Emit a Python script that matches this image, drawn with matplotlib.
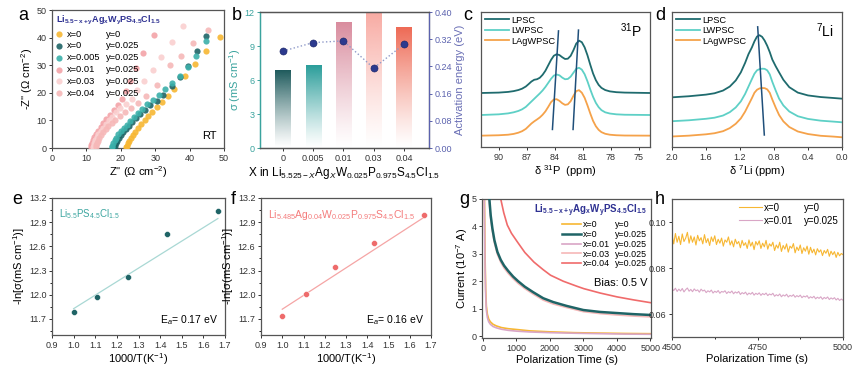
#!/usr/bin/env python3
"""
Ag/W co-doped argyrodite figure: EIS, conductivity, NMR, Arrhenius and
DC polarization panels (a-h) laid out in one 865x375 figure.
"""

import numpy as np
import matplotlib
matplotlib.use('Agg')
import matplotlib.pyplot as plt
import matplotlib.colors as mcolors
import matplotlib.ticker as ticker
from matplotlib.lines import Line2D

# ---------------- data ----------------
LEG_X = ['x=0', 'x=0', 'x=0.005', 'x=0.01', 'x=0.03', 'x=0.04']
LEG_Y = ['y=0', 'y=0.025', 'y=0.025', 'y=0.025', 'y=0.025', 'y=0.025']

# (a) Nyquist points
A_X00 = [21.5, 21.7, 22.0, 22.4, 22.9, 23.5, 24.2, 25.0, 25.9, 26.9, 28.0, 29.2, 30.5, 32.0, 33.7, 35.5, 38.7, 41.6, 44.8, 48.8]
A_Y00 = [0.2, 0.9, 1.7, 2.6, 3.6, 4.7, 5.9, 7.2, 8.6, 10.0, 11.5, 13.1, 14.8, 16.7, 18.9, 21.5, 26.2, 30.5, 35.0, 40.2]
A_X01 = [18.0, 18.2, 18.5, 18.9, 19.4, 20.0, 20.7, 21.5, 22.4, 23.4, 24.5, 25.7, 27.0, 28.5, 30.4, 32.4, 34.8, 37.2, 39.6, 42.1, 44.7]
A_Y01 = [0.2, 0.9, 1.7, 2.6, 3.6, 4.6, 5.7, 6.9, 8.1, 9.4, 10.8, 12.3, 13.9, 15.5, 17.1, 19.2, 22.5, 25.7, 29.8, 35.0, 40.7]
A_X02 = [17.3, 17.5, 17.8, 18.2, 18.7, 19.3, 20.0, 20.8, 21.7, 22.7, 23.8, 25.0, 26.3, 27.7, 29.3, 31.0, 32.9, 35.0, 37.2, 39.4, 41.9, 44.8]
A_Y02 = [0.2, 0.9, 1.8, 2.8, 3.8, 4.9, 6.0, 7.2, 8.5, 9.8, 11.2, 12.7, 14.2, 15.8, 17.4, 19.2, 21.2, 23.5, 26.1, 29.5, 33.4, 38.6]
A_X03 = [11.3, 11.4, 11.6, 11.9, 12.3, 12.8, 13.4, 14.1, 14.9, 15.8, 16.8, 17.9, 19.1, 20.3, 21.5, 22.7, 24.4, 26.4, 29.6]
A_Y03 = [0.2, 1.0, 1.9, 2.9, 4.0, 5.1, 6.3, 7.6, 9.0, 10.5, 12.1, 13.8, 15.6, 17.6, 20.8, 24.3, 28.9, 34.4, 41.0]
A_X04 = [12.0, 12.1, 12.3, 12.6, 13.0, 13.5, 14.1, 14.8, 15.6, 16.5, 17.5, 18.6, 19.8, 21.4, 23.2, 24.6, 26.7, 29.3, 31.7, 35.0, 38.0]
A_Y04 = [0.2, 1.0, 1.9, 2.9, 4.0, 5.1, 6.2, 7.4, 8.7, 10.0, 11.4, 12.9, 14.6, 16.0, 17.7, 21.1, 24.3, 28.3, 32.9, 38.3, 44.3]
A_X05 = [12.8, 12.9, 13.1, 13.4, 13.8, 14.3, 14.9, 15.6, 16.4, 17.3, 18.4, 19.7, 21.2, 23.0, 25.0, 27.4, 30.6, 34.3, 37.4, 41.1, 45.4]
A_Y05 = [0.2, 1.0, 1.8, 2.7, 3.7, 4.7, 5.7, 6.8, 7.9, 9.0, 10.2, 11.5, 12.9, 14.5, 16.3, 18.8, 23.0, 29.9, 33.4, 38.0, 42.9]

# (b) conductivity bars + activation energy
B_LABELS = ['0', '0.005', '0.01', '0.03', '0.04']
B_SIGMA = [6.8, 7.3, 11.1, 12.0, 10.6]
B_EA = [0.285, 0.31, 0.315, 0.235, 0.305]

# (c) 31P NMR (intensity above each baseline)
NMR_NAMES = ['LPSC', 'LWPSC', 'LAgWPSC']
C_PPM = [91.9, 90.0, 89.0, 88.4, 87.9, 87.5, 87.1, 86.8, 86.5, 86.2, 85.9, 85.6, 85.3, 85.0, 84.7, 84.4,
         84.1, 83.8, 83.5, 83.2, 82.9, 82.6, 82.3, 82.0, 81.7, 81.4, 81.1, 80.8, 80.5, 80.2, 79.9, 79.6,
         79.3, 79.0, 78.6, 78.1, 77.4, 76.5, 73.8]
C_LPSC = [0, 0.003, 0.008, 0.014, 0.022, 0.032, 0.048, 0.066, 0.085, 0.098, 0.102, 0.113, 0.135, 0.165, 0.205, 0.245,
          0.276, 0.287, 0.281, 0.265, 0.252, 0.254, 0.275, 0.317, 0.366, 0.388, 0.376, 0.338, 0.280, 0.210, 0.145, 0.095,
          0.060, 0.038, 0.022, 0.012, 0.006, 0.003, 0]
C_LWPSC = [0, 0.005, 0.012, 0.020, 0.030, 0.042, 0.060, 0.080, 0.100, 0.120, 0.140, 0.160, 0.182, 0.208, 0.238, 0.268,
           0.292, 0.300, 0.294, 0.277, 0.265, 0.267, 0.284, 0.313, 0.342, 0.350, 0.336, 0.302, 0.250, 0.190, 0.135, 0.090,
           0.058, 0.036, 0.020, 0.011, 0.005, 0.002, 0]
C_LAGWPSC = [0, 0.003, 0.007, 0.013, 0.022, 0.033, 0.050, 0.070, 0.090, 0.106, 0.120, 0.135, 0.155, 0.180, 0.213, 0.248,
             0.268, 0.270, 0.258, 0.240, 0.228, 0.232, 0.255, 0.295, 0.330, 0.337, 0.318, 0.280, 0.225, 0.165, 0.110, 0.070,
             0.043, 0.026, 0.014, 0.007, 0.003, 0.001, 0]
C_GUIDE1 = ([84.25, 83.6], [0.13, 0.86])
C_GUIDE2 = ([82.04, 81.46], [0.13, 0.866])

# (d) 7Li NMR
D_PPM = [2.0, 1.8, 1.6, 1.5, 1.4, 1.32, 1.25, 1.19, 1.14, 1.10, 1.06, 1.03, 1.0, 0.97, 0.94, 0.91, 0.88, 0.85,
         0.82, 0.78, 0.74, 0.69, 0.62, 0.52, 0.40, 0.25, 0.10, 0.0]
D_LPSC = [0.010, 0.018, 0.030, 0.040, 0.060, 0.090, 0.135, 0.195, 0.265, 0.330, 0.380, 0.425, 0.460, 0.470, 0.458,
          0.430, 0.392, 0.345, 0.290, 0.240, 0.195, 0.140, 0.085, 0.045, 0.024, 0.012, 0.005, 0.0]
D_LWPSC = [0.008, 0.015, 0.026, 0.034, 0.050, 0.075, 0.110, 0.155, 0.210, 0.265, 0.320, 0.360, 0.385, 0.394, 0.397,
           0.396, 0.385, 0.355, 0.300, 0.235, 0.175, 0.125, 0.080, 0.045, 0.025, 0.012, 0.005, 0.0]
D_LAGWPSC = [0.006, 0.012, 0.022, 0.030, 0.045, 0.068, 0.100, 0.140, 0.190, 0.240, 0.290, 0.330, 0.352, 0.362, 0.365,
             0.364, 0.355, 0.330, 0.280, 0.220, 0.165, 0.118, 0.076, 0.043, 0.024, 0.011, 0.005, 0.0]
D_GUIDE = ([0.992, 0.914], [0.89, 0.089])

# (e), (f) Arrhenius
ARR_X = [1.0, 1.11, 1.25, 1.43, 1.667]
E_Y = [11.786, 11.975, 12.218, 12.748, 13.044]
E_FIT = ([1.0, 1.667], [11.827, 12.945])
F_Y = [11.733, 12.007, 12.348, 12.647, 12.995]
F_FIT = ([1.0, 1.667], [11.82, 12.96])

# (g) DC polarization
G_T_LOW = [20, 40, 60, 80, 100, 130, 170, 220, 300, 400, 550, 750, 1000, 1400, 2000, 2700, 3500, 4250, 5000]
G_I00 = [9.0, 5.5, 3.0, 1.7, 1.1, 0.80, 0.62, 0.52, 0.43, 0.37, 0.31, 0.27, 0.24, 0.19, 0.155, 0.125, 0.108, 0.095, 0.087]
G_I03 = [8.0, 4.8, 2.6, 1.5, 0.95, 0.68, 0.52, 0.43, 0.35, 0.30, 0.25, 0.21, 0.18, 0.15, 0.125, 0.105, 0.088, 0.073, 0.066]
G_T_MID = [150, 190, 230, 280, 340, 430, 530, 630, 750, 900, 1050, 1250, 1500, 1800, 2100, 2500, 3000, 3500, 4000, 4500, 5000]
G_I01 = [6.2, 5.0, 4.4, 3.93, 3.5, 3.07, 2.78, 2.57, 2.38, 2.17, 2.0, 1.8, 1.6, 1.38, 1.24, 1.10, 0.95, 0.88, 0.84, 0.80, 0.77]
G_I04 = [6.0, 4.85, 4.28, 3.83, 3.4, 2.98, 2.69, 2.48, 2.29, 2.09, 1.92, 1.73, 1.53, 1.31, 1.17, 1.04, 0.89, 0.82, 0.77, 0.73, 0.70]
G_T_HIGH = [450, 530, 620, 726, 850, 1024, 1250, 1521, 1800, 2018, 2400, 2800, 3012, 3500, 4006, 4500, 5000]
G_I05 = [5.6, 5.0, 4.5, 4.05, 3.75, 3.44, 3.05, 2.7, 2.42, 2.22, 2.0, 1.82, 1.73, 1.57, 1.43, 1.32, 1.22]
G_LEG_X = ['x=0', 'x=0', 'x=0.01', 'x=0.03', 'x=0.04']
G_LEG_Y = ['y=0', 'y=0.025', 'y=0.025', 'y=0.025', 'y=0.025']

# (h) zoom of the tail, sampled every 5 s
H_T = np.arange(4500, 5001, 5)
H_I00 = [0.0945, 0.0905, 0.0950, 0.0912, 0.0938, 0.0902, 0.0948, 0.0915, 0.0930, 0.0955,
         0.0908, 0.0940, 0.0912, 0.0935, 0.0900, 0.0942, 0.0918, 0.0932, 0.0905, 0.0945,
         0.0910, 0.0928, 0.0898, 0.0935, 0.0915, 0.0940, 0.0902, 0.0925, 0.0908, 0.0930,
         0.0895, 0.0922, 0.0912, 0.0935, 0.0900, 0.0918, 0.0892, 0.0925, 0.0905, 0.0915,
         0.0888, 0.0920, 0.0898, 0.0910, 0.0885, 0.0922, 0.0895, 0.0912, 0.0880, 0.0915,
         0.0900, 0.0918, 0.0885, 0.0908, 0.0892, 0.0920, 0.0882, 0.0905, 0.0895, 0.0912,
         0.0876, 0.0900, 0.0886, 0.0912, 0.0872, 0.0898, 0.0882, 0.0905, 0.0869, 0.0895,
         0.0886, 0.0906, 0.0866, 0.0891, 0.0876, 0.0900, 0.0863, 0.0888, 0.0873, 0.0895,
         0.0860, 0.0890, 0.0866, 0.0882, 0.0857, 0.0884, 0.0869, 0.0879, 0.0854, 0.0876,
         0.0864, 0.0881, 0.0851, 0.0873, 0.0858, 0.0871, 0.0846, 0.0868, 0.0853, 0.0863, 0.0858]
H_I03 = [0.0710, 0.0702, 0.0712, 0.0698, 0.0708, 0.0700, 0.0711, 0.0696, 0.0706, 0.0713,
         0.0699, 0.0707, 0.0697, 0.0709, 0.0701, 0.0705, 0.0695, 0.0708, 0.0700, 0.0704,
         0.0693, 0.0701, 0.0696, 0.0704, 0.0691, 0.0699, 0.0694, 0.0702, 0.0690, 0.0698,
         0.0695, 0.0701, 0.0689, 0.0697, 0.0692, 0.0700, 0.0688, 0.0696, 0.0691, 0.0698,
         0.0685, 0.0693, 0.0688, 0.0695, 0.0683, 0.0691, 0.0686, 0.0694, 0.0682, 0.0690,
         0.0685, 0.0692, 0.0681, 0.0689, 0.0684, 0.0691, 0.0680, 0.0687, 0.0683, 0.0690,
         0.0677, 0.0684, 0.0679, 0.0687, 0.0675, 0.0683, 0.0678, 0.0686, 0.0674, 0.0681,
         0.0677, 0.0684, 0.0673, 0.0680, 0.0675, 0.0682, 0.0671, 0.0678, 0.0674, 0.0680,
         0.0668, 0.0675, 0.0670, 0.0677, 0.0666, 0.0673, 0.0668, 0.0675, 0.0664, 0.0672,
         0.0667, 0.0674, 0.0663, 0.0670, 0.0665, 0.0671, 0.0661, 0.0668, 0.0659, 0.0665, 0.0660]

# ---------------- style ----------------
C_YEL = '#F7B733'
C_DTEAL = '#1F6466'
C_TEAL = '#3BB0AA'
C_PINK1 = '#F3A3A8'
C_PINK3 = '#FAD0D0'
C_PINK4 = '#F6B8B8'
C_LILAC = '#D9A6C6'
C_RED = '#F06B6B'
C_NAVY = '#2E3192'
NMR_COLORS = ['#1F6B6E', '#5ED0C6', '#F5A24A']
SPINE = '#555555'
TICK = 6.5
LABEL = 8

FORMULA = r'$\mathbf{Li_{5.5-x+y}Ag_xW_yPS_{4.5}Cl_{1.5}}$'


def px_rect(l, t, r, b, w=865, h=375):
    return [l / w, 1 - b / h, (r - l) / w, (b - t) / h]


def style_axes(ax):
    for s in ax.spines.values():
        s.set_color(SPINE)
        s.set_linewidth(0.9)
    ax.tick_params(labelsize=TICK, length=2.5, width=0.7, colors='#333333', pad=1.5)
    ax.tick_params(which='minor', length=1.5, width=0.6)


def two_col_legend(ax, handles, xlabs, ylabs, colspace, fontsize=6.5, spacing=0.3, **kw):
    blanks = [Line2D([], [], linestyle='none') for _ in ylabs]
    return ax.legend(handles + blanks, xlabs + ylabs, ncol=2, frameon=False,
                     columnspacing=colspace, fontsize=fontsize, labelspacing=spacing,
                     borderpad=0.2, borderaxespad=0.2, **kw)


def main():
    plt.rcParams['font.family'] = ['Liberation Sans', 'DejaVu Sans']
    plt.rcParams['mathtext.fontset'] = 'custom'
    plt.rcParams['mathtext.rm'] = 'Liberation Sans'
    plt.rcParams['mathtext.it'] = 'Liberation Sans:italic'
    plt.rcParams['mathtext.bf'] = 'Liberation Sans:bold'

    fig = plt.figure(figsize=(8.65, 3.75), dpi=100)

    # --- Panel a: Nyquist ---
    ax = fig.add_axes(px_rect(52, 10, 224, 148))
    style_axes(ax)
    series = [(A_X00, A_Y00, C_YEL), (A_X01, A_Y01, C_DTEAL), (A_X02, A_Y02, C_TEAL),
              (A_X03, A_Y03, C_PINK1), (A_X04, A_Y04, C_PINK3), (A_X05, A_Y05, C_PINK4)]
    handles = []
    for xs, ys, c in series:
        h = ax.scatter(xs, ys, s=20, color=c, alpha=0.9, linewidths=0, zorder=3)
        handles.append(h)
    ax.set_xlim(0, 50)
    ax.set_ylim(0, 50)
    ax.xaxis.set_major_locator(ticker.MultipleLocator(10))
    ax.yaxis.set_major_locator(ticker.MultipleLocator(10))
    ax.set_xlabel("Z'' (Ω cm$^{-2}$)", fontsize=LABEL, labelpad=1)
    ax.set_ylabel("-Z'' (Ω cm$^{-2}$)", fontsize=LABEL, labelpad=1)
    ax.text(0.96, 0.05, 'RT', transform=ax.transAxes, ha='right', va='bottom', fontsize=8)
    leg = two_col_legend(ax, handles, LEG_X, LEG_Y, -0.6, fontsize=6.7, loc='upper left',
                         handlelength=0.8, handletextpad=0.4, title=FORMULA,
                         title_fontproperties={'size': 6.5}, alignment='left')
    leg.get_title().set_color(C_NAVY)

    # --- Panel b: conductivity + Ea ---
    ax = fig.add_axes(px_rect(260, 12, 429, 148))
    style_axes(ax)
    xs = np.arange(len(B_LABELS))
    bar_cols = ['#1E5A5C', '#2A9D9A', '#D98C9E', '#F8AAA2', '#EE6A55']
    bars = ax.bar(xs, B_SIGMA, width=0.5, color='none', edgecolor='none', zorder=1)
    ramp = np.linspace(0, 1, 256)[:, None]
    for bar, c in zip(bars, bar_cols):
        img = np.zeros((256, 1, 4))
        img[..., :3] = mcolors.to_rgb(c)
        img[..., 3] = ramp ** 1.2
        x0, w, hgt = bar.get_x(), bar.get_width(), bar.get_height()
        ax.imshow(img, extent=[x0, x0 + w, 0, hgt], origin='lower', aspect='auto', zorder=1)
    ax.set_xlim(-0.76, 4.83)
    ax.set_ylim(0, 12)
    ax.set_xticks(xs)
    ax.set_xticklabels(B_LABELS)
    ax.yaxis.set_major_locator(ticker.MultipleLocator(3))
    ax.spines['left'].set_color('#3AA39E')
    ax.tick_params(axis='y', colors='#3AA39E')
    ax.set_ylabel('σ (mS cm$^{-1}$)', fontsize=LABEL, color='#3AA39E', labelpad=1)
    ax.set_xlabel('X in Li$_{5.525-X}$Ag$_X$W$_{0.025}$P$_{0.975}$S$_{4.5}$Cl$_{1.5}$',
                  fontsize=8.5, labelpad=2)
    ax2 = ax.twinx()
    style_axes(ax2)
    ax2.spines['left'].set_color('#3AA39E')
    ax2.spines['right'].set_color('#5B62AE')
    ax2.tick_params(axis='y', colors='#5B62AE')
    ax2.plot(xs, B_EA, linestyle=':', color='#8F9AC9', linewidth=1.0, zorder=2)
    ax2.scatter(xs, B_EA, s=26, color='#2C3A8E', edgecolors='#1B2466', linewidths=0.4, zorder=3)
    ax2.set_ylim(0, 0.40)
    ax2.yaxis.set_major_locator(ticker.MultipleLocator(0.08))
    ax2.yaxis.set_major_formatter(ticker.FormatStrFormatter('%.2f'))
    ax2.set_ylabel('Activation energy (eV)', fontsize=LABEL, color='#6A6FB5', labelpad=2)

    # --- Panel c: 31P NMR ---
    ax = fig.add_axes(px_rect(481, 12, 650, 147))
    style_axes(ax)
    offsets = [0.40, 0.237, 0.084]
    for name, ys, off, c in zip(NMR_NAMES, [C_LPSC, C_LWPSC, C_LAGWPSC], offsets, NMR_COLORS):
        ax.plot(C_PPM, np.array(ys) + off, color=c, linewidth=1.3, label=name)
    ax.plot(*C_GUIDE1, color='#1F4F7A', linewidth=1.1)
    ax.plot(*C_GUIDE2, color='#1F4F7A', linewidth=1.1)
    ax.set_xlim(91.9, 73.8)
    ax.set_ylim(0, 1)
    ax.set_yticks([])
    ax.xaxis.set_major_locator(ticker.MultipleLocator(3))
    ax.set_xlabel('δ $^{31}$P  (ppm)', fontsize=LABEL, labelpad=1)
    ax.legend(loc='upper left', frameon=False, fontsize=6.7, handlelength=2.6,
              handletextpad=0.3, labelspacing=0.15, borderpad=0.2, borderaxespad=0.2)
    ax.text(0.95, 0.93, '$^{31}$P', transform=ax.transAxes, ha='right', va='top', fontsize=10)

    # --- Panel d: 7Li NMR ---
    ax = fig.add_axes(px_rect(672, 12, 842, 147))
    style_axes(ax)
    offsets = [0.358, 0.183, 0.072]
    for name, ys, off, c in zip(NMR_NAMES, [D_LPSC, D_LWPSC, D_LAGWPSC], offsets, NMR_COLORS):
        ax.plot(D_PPM, np.array(ys) + off, color=c, linewidth=1.3, label=name)
    ax.plot(*D_GUIDE, color='#1F4F7A', linewidth=1.1)
    ax.set_xlim(2.0, 0.0)
    ax.set_ylim(0, 1)
    ax.set_yticks([])
    ax.xaxis.set_major_locator(ticker.MultipleLocator(0.4))
    ax.xaxis.set_major_formatter(ticker.FormatStrFormatter('%.1f'))
    ax.set_xlabel('δ $^{7}$Li (ppm)', fontsize=LABEL, labelpad=1)
    ax.legend(loc='upper left', frameon=False, fontsize=6.7, handlelength=2.6,
              handletextpad=0.3, labelspacing=0.15, borderpad=0.2, borderaxespad=0.2)
    ax.text(0.95, 0.93, '$^{7}$Li', transform=ax.transAxes, ha='right', va='top', fontsize=10)

    # --- Panels e, f: Arrhenius ---
    arr = [(px_rect(52, 198, 225, 335), E_Y, E_FIT, '#1F6466', '#A9D8D4',
            'Li$_{5.5}$PS$_{4.5}$Cl$_{1.5}$', '#3DA6A0', 7, 'E$_a$= 0.17 eV'),
           (px_rect(261, 198, 431, 335), F_Y, F_FIT, '#EE6B6B', '#F5A5A5',
            'Li$_{5.485}$Ag$_{0.04}$W$_{0.025}$P$_{0.975}$S$_{4.5}$Cl$_{1.5}$', '#F47B7B', 7.5,
            'E$_a$= 0.16 eV')]
    for rect, ys, fit, pc, lc, formula, fc, fs, ea in arr:
        ax = fig.add_axes(rect)
        style_axes(ax)
        ax.plot(*fit, color=lc, linewidth=0.9, zorder=2)
        ax.scatter(ARR_X, ys, s=18, color=pc, edgecolors='white', linewidths=0.3, zorder=3)
        ax.set_xlim(0.9, 1.7)
        ax.set_ylim(11.5, 13.2)
        ax.xaxis.set_major_locator(ticker.MultipleLocator(0.1))
        ax.yaxis.set_major_locator(ticker.MultipleLocator(0.3))
        ax.yaxis.set_minor_locator(ticker.MultipleLocator(0.15))
        ax.set_xlabel('1000/T(K$^{-1}$)', fontsize=LABEL, labelpad=1)
        ax.set_ylabel('-ln[σ(mS cm$^{-1}$)]', fontsize=LABEL, labelpad=1)
        ax.text(0.04, 0.93, formula, transform=ax.transAxes, ha='left', va='top',
                fontsize=fs, color=fc)
        ax.text(0.96, 0.06, ea, transform=ax.transAxes, ha='right', va='bottom', fontsize=7.5)

    # --- Panel g: polarization ---
    ax = fig.add_axes(px_rect(482, 199, 651, 338))
    style_axes(ax)
    curves = [(G_T_LOW, G_I00, C_YEL, 1.2), (G_T_MID, G_I01, C_DTEAL, 1.8),
              (G_T_LOW, G_I03, C_LILAC, 1.2), (G_T_MID, G_I04, C_PINK4, 1.2),
              (G_T_HIGH, G_I05, C_RED, 1.2)]
    handles = []
    for ts, ys, c, lw in curves:
        ln, = ax.plot(ts, ys, color=c, linewidth=lw)
        handles.append(ln)
    # teal sits on top of the x=0.03 curve
    handles[1].set_zorder(3)
    ax.set_xlim(-30, 5020)
    ax.set_ylim(-0.07, 5)
    ax.xaxis.set_major_locator(ticker.MultipleLocator(1000))
    ax.yaxis.set_major_locator(ticker.MultipleLocator(1))
    ax.set_xlabel('Polarization Time (s)', fontsize=LABEL, labelpad=2)
    ax.set_ylabel('Current (10$^{-7}$ A)', fontsize=LABEL, labelpad=1)
    ax.text(0.98, 0.36, 'Bias: 0.5 V', transform=ax.transAxes, ha='right', va='bottom', fontsize=8)
    leg = two_col_legend(ax, handles, G_LEG_X, G_LEG_Y, -1.8, fontsize=6.4, spacing=0.1,
                         loc='upper right', handlelength=2.2, handletextpad=0.2, title=FORMULA,
                         title_fontproperties={'size': 7}, alignment='right')
    leg.get_title().set_color(C_NAVY)

    # --- Panel h: tail zoom ---
    ax = fig.add_axes(px_rect(672, 199, 843, 337))
    style_axes(ax)
    l1, = ax.plot(H_T, H_I00, color=C_YEL, linewidth=0.8)
    l2, = ax.plot(H_T, H_I03, color=C_LILAC, linewidth=0.8)
    ax.set_xlim(4500, 5000)
    ax.set_ylim(0.05, 0.11)
    ax.xaxis.set_major_locator(ticker.MultipleLocator(250))
    ax.xaxis.set_minor_locator(ticker.MultipleLocator(125))
    ax.yaxis.set_major_locator(ticker.MultipleLocator(0.02))
    ax.yaxis.set_major_formatter(ticker.FormatStrFormatter('%.2f'))
    ax.set_xlabel('Polarization Time (s)', fontsize=LABEL, labelpad=2)
    two_col_legend(ax, [l1, l2], ['x=0', 'x=0.01'], ['y=0', 'y=0.025'], -1.5, fontsize=7,
                   loc='upper right', handlelength=2.4, handletextpad=0.2)

    # --- panel letters ---
    for letter, (px, py) in zip('abcdefgh', [(23, 15), (237, 15), (468, 15), (660, 15),
                                            (17, 200), (233, 200), (464, 200), (660, 200)]):
        fig.text(px / 865, 1 - py / 375, letter, fontsize=13, ha='center', va='center')

    fig.savefig('out.png', dpi=100)
    print('Chart saved to out.png')


if __name__ == '__main__':
    main()
